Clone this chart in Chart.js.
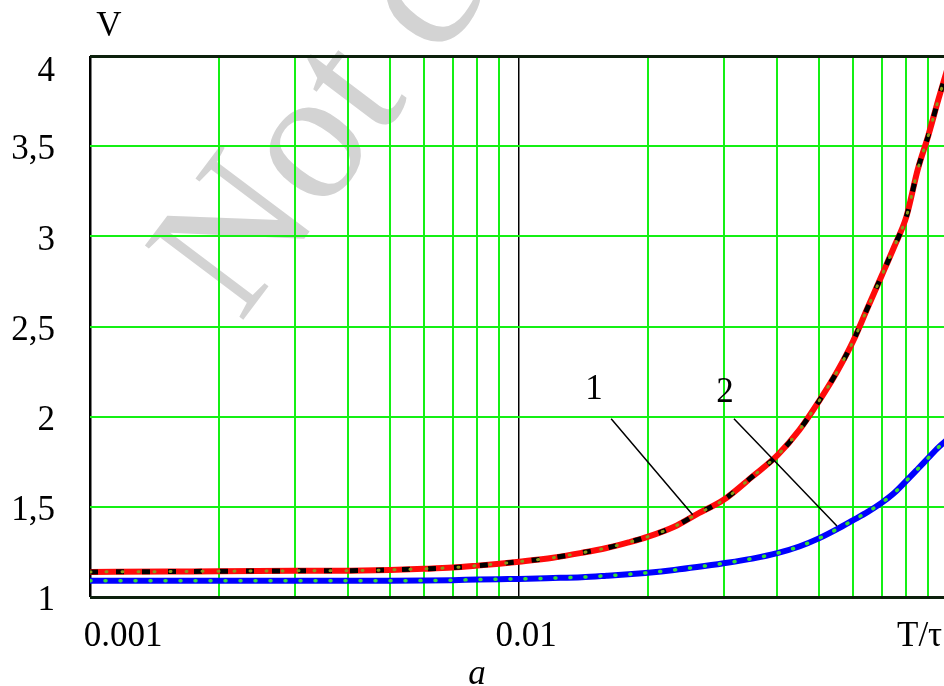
<!DOCTYPE html>
<html>
<head>
<meta charset="utf-8">
<title>V vs T/tau</title>
<script src="https://cdn.jsdelivr.net/npm/chart.js@4/dist/chart.umd.min.js"></script>
<style>
  html, body { margin: 0; padding: 0; background: #fff; overflow: hidden; }
  #wrap { position: relative; width: 960px; height: 686px; }
</style>
</head>
<body>
<div id="wrap"><canvas id="chart" width="960" height="686"></canvas></div>
<script>
'use strict';

// T/tau sample points (log axis)
var ratio = [0.001, 0.0015, 0.002, 0.003, 0.004, 0.005, 0.006, 0.007, 0.008, 0.009,
  0.01, 0.012, 0.014, 0.016, 0.018, 0.02, 0.023, 0.026, 0.03, 0.035, 0.04, 0.045,
  0.05, 0.055, 0.06, 0.065, 0.07, 0.075, 0.08, 0.085, 0.09, 0.095, 0.1];

// curve 1 (red / black dashed)
var curve1 = [1.139, 1.141, 1.143, 1.145, 1.146, 1.150, 1.156, 1.163, 1.174, 1.185,
  1.196, 1.218, 1.245, 1.272, 1.303, 1.335, 1.39, 1.46, 1.539, 1.668, 1.785, 1.925,
  2.085, 2.245, 2.415, 2.605, 2.78, 2.945, 3.11, 3.37, 3.56, 3.76, 3.94];

// curve 2 (blue / green dotted)
var curve2 = [1.09, 1.09, 1.09, 1.09, 1.09, 1.09, 1.091, 1.093, 1.097, 1.099,
  1.10, 1.105, 1.11, 1.118, 1.126, 1.135, 1.15, 1.166, 1.187, 1.213, 1.243, 1.28,
  1.325, 1.375, 1.425, 1.472, 1.522, 1.578, 1.645, 1.71, 1.772, 1.83, 1.876];

var xGrid = [0.001, 0.002, 0.003, 0.004, 0.005, 0.006, 0.007, 0.008, 0.009,
  0.01, 0.02, 0.03, 0.04, 0.05, 0.06, 0.07, 0.08, 0.09, 0.1];
var yGrid = [1, 1.5, 2, 2.5, 3, 3.5, 4];

var xTickLabels = ['0.001', '0.01'];
var xTickValues = [0.001, 0.01];
var yTickLabels = ['1', '1,5', '2', '2,5', '3', '3,5', '4'];

// leader lines for the curve numbers
var leader1 = { x: [0.0164, 0.0254], y: [1.989, 1.456] };
var leader2 = { x: [0.0317, 0.0551], y: [1.989, 1.394] };
var curveTags = ['1', '2'];
var tagX = [0.01496, 0.0302];
var tagY = [2.15, 2.133];

var SERIF = '"Liberation Serif", "Times New Roman", serif';

function pts(xs, ys) {
  return xs.map(function (x, i) { return { x: x, y: ys[i] }; });
}

var watermark = {
  id: 'watermark',
  beforeDraw: function (chart) {
    var ctx = chart.ctx;
    ctx.save();
    ctx.translate(240, 324);
    ctx.rotate(-53 * Math.PI / 180);
    ctx.font = '188px ' + SERIF;
    ctx.fillStyle = '#d3d3d3';
    ctx.textBaseline = 'alphabetic';
    ctx.fillText('Not co', 0, 0);
    ctx.restore();
  }
};

var labels = {
  id: 'labels',
  afterDraw: function (chart) {
    var ctx = chart.ctx;
    var xs = chart.scales.x, ys = chart.scales.y, area = chart.chartArea;
    ctx.save();
    ctx.fillStyle = '#000';
    ctx.font = '35px ' + SERIF;

    // y tick labels
    ctx.textAlign = 'right';
    ctx.textBaseline = 'middle';
    yGrid.forEach(function (v, i) {
      var py = Math.max(ys.getPixelForValue(v) + 4, area.top + 16);
      ctx.fillText(yTickLabels[i], 55, py);
    });

    // x tick labels (Mathcad puts them a bit right of the line)
    ctx.textBaseline = 'alphabetic';
    ctx.textAlign = 'center';
    var shift = [33, 7];
    xTickValues.forEach(function (v, i) {
      ctx.fillText(xTickLabels[i], xs.getPixelForValue(v) + shift[i], 646);
    });

    ctx.textAlign = 'left';
    ctx.fillText('T/\u03c4', 897, 646);

    ctx.textAlign = 'center';
    ctx.fillText('V', 109, 36);

    ctx.font = 'italic 35px ' + SERIF;
    ctx.fillText('a', 477, 684);

    // curve numbers
    ctx.font = '35px ' + SERIF;
    ctx.textBaseline = 'middle';
    curveTags.forEach(function (t, i) {
      ctx.fillText(t, xs.getPixelForValue(tagX[i]), ys.getPixelForValue(tagY[i]));
    });
    ctx.restore();
  }
};

function gridColorX(c) {
  var v = c.tick && c.tick.value;
  if (v === 0.001 || v === 0.01 || v === 0.1) return '#000';
  return '#14f014';
}

function gridWidthX(c) {
  var v = c.tick && c.tick.value;
  if (v === 0.001) return 2.5;
  if (v === 0.01) return 1.5;
  return 2;
}

function gridColorY(c) {
  var v = c.tick && c.tick.value;
  if (v === 1 || v === 4) return '#0c200c';
  return '#14f014';
}

function gridWidthY(c) {
  var v = c.tick && c.tick.value;
  if (v === 1 || v === 4) return 3;
  return 2;
}

function line(data, color, width, dash, cap, order) {
  return {
    data: data,
    borderColor: color,
    borderWidth: width,
    borderDash: dash || [],
    borderCapStyle: cap || 'butt',
    pointRadius: 0,
    fill: false,
    cubicInterpolationMode: 'monotone',
    order: order
  };
}

var red = pts(ratio, curve1);
var blue = pts(ratio, curve2);

new Chart(document.getElementById('chart'), {
  type: 'line',
  data: {
    datasets: [
      line(pts(leader1.x, leader1.y), '#000', 1.5, null, null, 1),
      line(pts(leader2.x, leader2.y), '#000', 1.5, null, null, 1),
      line(red, '#8a9a1a', 3, [1, 15], 'round', 2),
      line(red, '#000', 5, [8, 18], null, 3),
      line(red, '#ff0a0a', 6, null, null, 4),
      line(blue, '#33e033', 3.5, [1, 14], 'round', 2),
      line(blue, '#0000ff', 6, null, null, 4)
    ]
  },
  options: {
    responsive: false,
    animation: false,
    devicePixelRatio: 1,
    layout: { padding: { left: 90, top: 56, right: 12, bottom: 89 } },
    plugins: { legend: { display: false }, tooltip: { enabled: false } },
    scales: {
      x: {
        type: 'logarithmic',
        min: 0.001,
        max: 0.1,
        afterBuildTicks: function (s) {
          s.ticks = xGrid.map(function (v) { return { value: v }; });
        },
        ticks: { display: false, autoSkip: false },
        border: { display: false },
        grid: { drawTicks: false, color: gridColorX, lineWidth: gridWidthX }
      },
      y: {
        type: 'linear',
        min: 1,
        max: 4,
        afterBuildTicks: function (s) {
          s.ticks = yGrid.map(function (v) { return { value: v }; });
        },
        ticks: { display: false },
        border: { display: false },
        grid: { drawTicks: false, color: gridColorY, lineWidth: gridWidthY }
      }
    }
  },
  plugins: [watermark, labels]
});
</script>
</body>
</html>
